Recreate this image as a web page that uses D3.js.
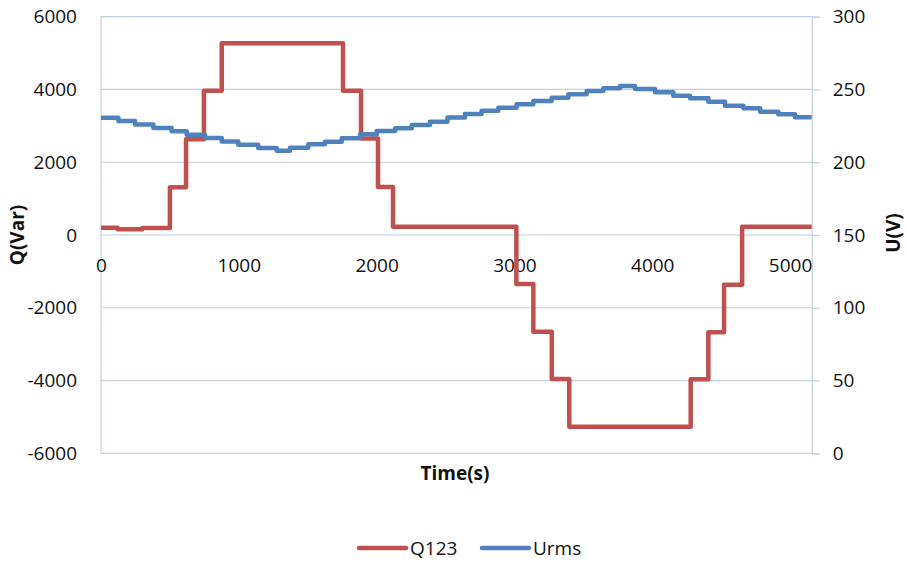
<!DOCTYPE html>
<html>
<head>
<meta charset="utf-8">
<script src="https://cdn.jsdelivr.net/npm/d3@7"></script>
<style>
  html, body { margin: 0; padding: 0; background: #fff; }
  svg { display: block; font-family: "Open Sans", "Liberation Sans", sans-serif; }
  .tick-label { font-size: 19px; fill: #111; }
  .axis-title { font-size: 19px; font-weight: bold; fill: #111; }
</style>
</head>
<body>
<svg id="chart" width="907" height="562"></svg>
<script>
// Reactive power Q123 (Var): step changes, time (s) at which each level starts
const qTime  = [0, 120, 300, 500, 617, 747, 876, 1756, 1887, 2010, 2119,
                3014, 3137, 3271, 3398, 4279, 4407, 4521, 4652, 5157];
const qValue = [200, 160, 190, 1310, 2630, 3966, 5270, 3966, 2650, 1320, 230,
                -1350, -2660, -3960, -5270, -3966, -2670, -1370, 230, 230];

// RMS voltage Urms (V): step changes, time (s) at which each level starts
const uTime  = [0, 126, 247, 380, 513, 622, 755, 876, 996, 1141, 1275,
                1371, 1504, 1625, 1747, 1880, 2001, 2134, 2255, 2387,
                2514, 2641, 2762, 2883, 3016, 3137, 3270, 3391, 3524, 3645, 3766,
                3875, 4020, 4153, 4274, 4407, 4528, 4661, 4783, 4915, 5036, 5157];
const uValue = [230.6, 228.3, 225.9, 223.5, 221.3, 218.8, 216.7, 214.2, 212.0, 209.8, 207.9,
                210.0, 212.3, 214.1, 216.4, 219.2, 221.5, 223.3, 225.6, 227.9,
                230.8, 233.1, 235.4, 237.5, 239.8, 242.1, 244.3, 246.7, 248.9, 250.8, 252.4,
                250.3, 248.1, 245.7, 243.9, 241.6, 238.8, 237.1, 234.7, 232.9, 230.9, 230.9];

// Axis ticks
const xTicks  = [0, 1000, 2000, 3000, 4000, 5000];
const qTicks  = [-6000, -4000, -2000, 0, 2000, 4000, 6000];
const uTicks  = [0, 50, 100, 150, 200, 250, 300];

const seriesNames = ["Q123", "Urms"];
const seriesColors = ["#C0504D", "#4F81BD"];

const svg = d3.select("#chart");
const plot = { left: 101, right: 811.7, top: 16.7, bottom: 453.3 };
const gridColor = "#BFD0E6";
const plain = d => String(d);

const x  = d3.scaleLinear().domain([0, 5157]).range([plot.left, plot.right]);
const yQ = d3.scaleLinear().domain([-6000, 6000]).range([plot.bottom, plot.top]);
const yU = d3.scaleLinear().domain([0, 300]).range([plot.bottom, plot.top]);

// Horizontal gridlines (shared by both axes)
svg.append("g").selectAll("line").data(qTicks).join("line")
  .attr("x1", plot.left).attr("x2", plot.right)
  .attr("y1", d => yQ(d)).attr("y2", d => yQ(d))
  .attr("stroke", gridColor).attr("stroke-width", 1.2);

// Left axis line
svg.append("line")
  .attr("x1", plot.left).attr("x2", plot.left)
  .attr("y1", plot.top).attr("y2", plot.bottom)
  .attr("stroke", gridColor).attr("stroke-width", 1.2);

// Secondary (voltage) axis with outward ticks
const rightAxis = d3.axisRight(yU).tickValues(uTicks).tickSize(8).tickPadding(13).tickFormat(plain);
const gR = svg.append("g").attr("transform", `translate(${plot.right},0)`).call(rightAxis);
gR.select(".domain").attr("stroke", gridColor).attr("stroke-width", 1.2);
gR.selectAll(".tick line").attr("stroke", gridColor).attr("stroke-width", 1.2);
gR.selectAll(".tick text").attr("class", "tick-label").attr("fill", null);
gR.attr("font-family", null).attr("font-size", null);

// Primary (reactive power) axis labels
const leftAxis = d3.axisLeft(yQ).tickValues(qTicks).tickSize(0).tickPadding(24).tickFormat(plain);
const gL = svg.append("g").attr("transform", `translate(${plot.left},0)`).call(leftAxis);
gL.select(".domain").remove();
gL.selectAll(".tick text").attr("class", "tick-label").attr("fill", null);
gL.attr("font-family", null).attr("font-size", null);

// Time axis labels, placed at Q = 0
const bottomAxis = d3.axisBottom(x).tickValues(xTicks).tickSize(0).tickPadding(24).tickFormat(plain);
const gB = svg.append("g").attr("transform", `translate(0,${yQ(0)})`).call(bottomAxis);
gB.select(".domain").remove();
gB.selectAll(".tick text").attr("class", "tick-label").attr("fill", null);
gB.attr("font-family", null).attr("font-size", null);

// Series lines
const qLine = d3.line().curve(d3.curveStepAfter)
  .x((d, i) => x(qTime[i])).y(d => yQ(d));
const uLine = d3.line().curve(d3.curveStepAfter)
  .x((d, i) => x(uTime[i])).y(d => yU(d));

svg.append("path").datum(qValue).attr("d", qLine)
  .attr("fill", "none").attr("stroke", seriesColors[0])
  .attr("stroke-width", 4.5).attr("stroke-linejoin", "round");
svg.append("path").datum(uValue).attr("d", uLine)
  .attr("fill", "none").attr("stroke", seriesColors[1])
  .attr("stroke-width", 4.5).attr("stroke-linejoin", "round");

// Axis titles
svg.append("text").attr("class", "axis-title")
  .attr("transform", `translate(24,${yQ(0)}) rotate(-90)`)
  .attr("text-anchor", "middle").text("Q(Var)");
svg.append("text").attr("class", "axis-title")
  .attr("transform", `translate(900,${yQ(0) - 2}) rotate(-90)`)
  .attr("text-anchor", "middle").text("U(V)");
svg.append("text").attr("class", "axis-title")
  .attr("x", 455).attr("y", 480)
  .attr("text-anchor", "middle").text("Time(s)");

// Legend
const legendX = [359, 482];
const legend = svg.append("g").selectAll("g").data(seriesNames).join("g")
  .attr("transform", (d, i) => `translate(${legendX[i]},548)`);
legend.append("line").attr("x1", 0).attr("x2", 47).attr("y1", 0).attr("y2", 0)
  .attr("stroke", (d, i) => seriesColors[i]).attr("stroke-width", 4.5)
  .attr("stroke-linecap", "round");
legend.append("text").attr("class", "tick-label")
  .attr("x", 51).attr("y", 7).text(d => d);
</script>
</body>
</html>
